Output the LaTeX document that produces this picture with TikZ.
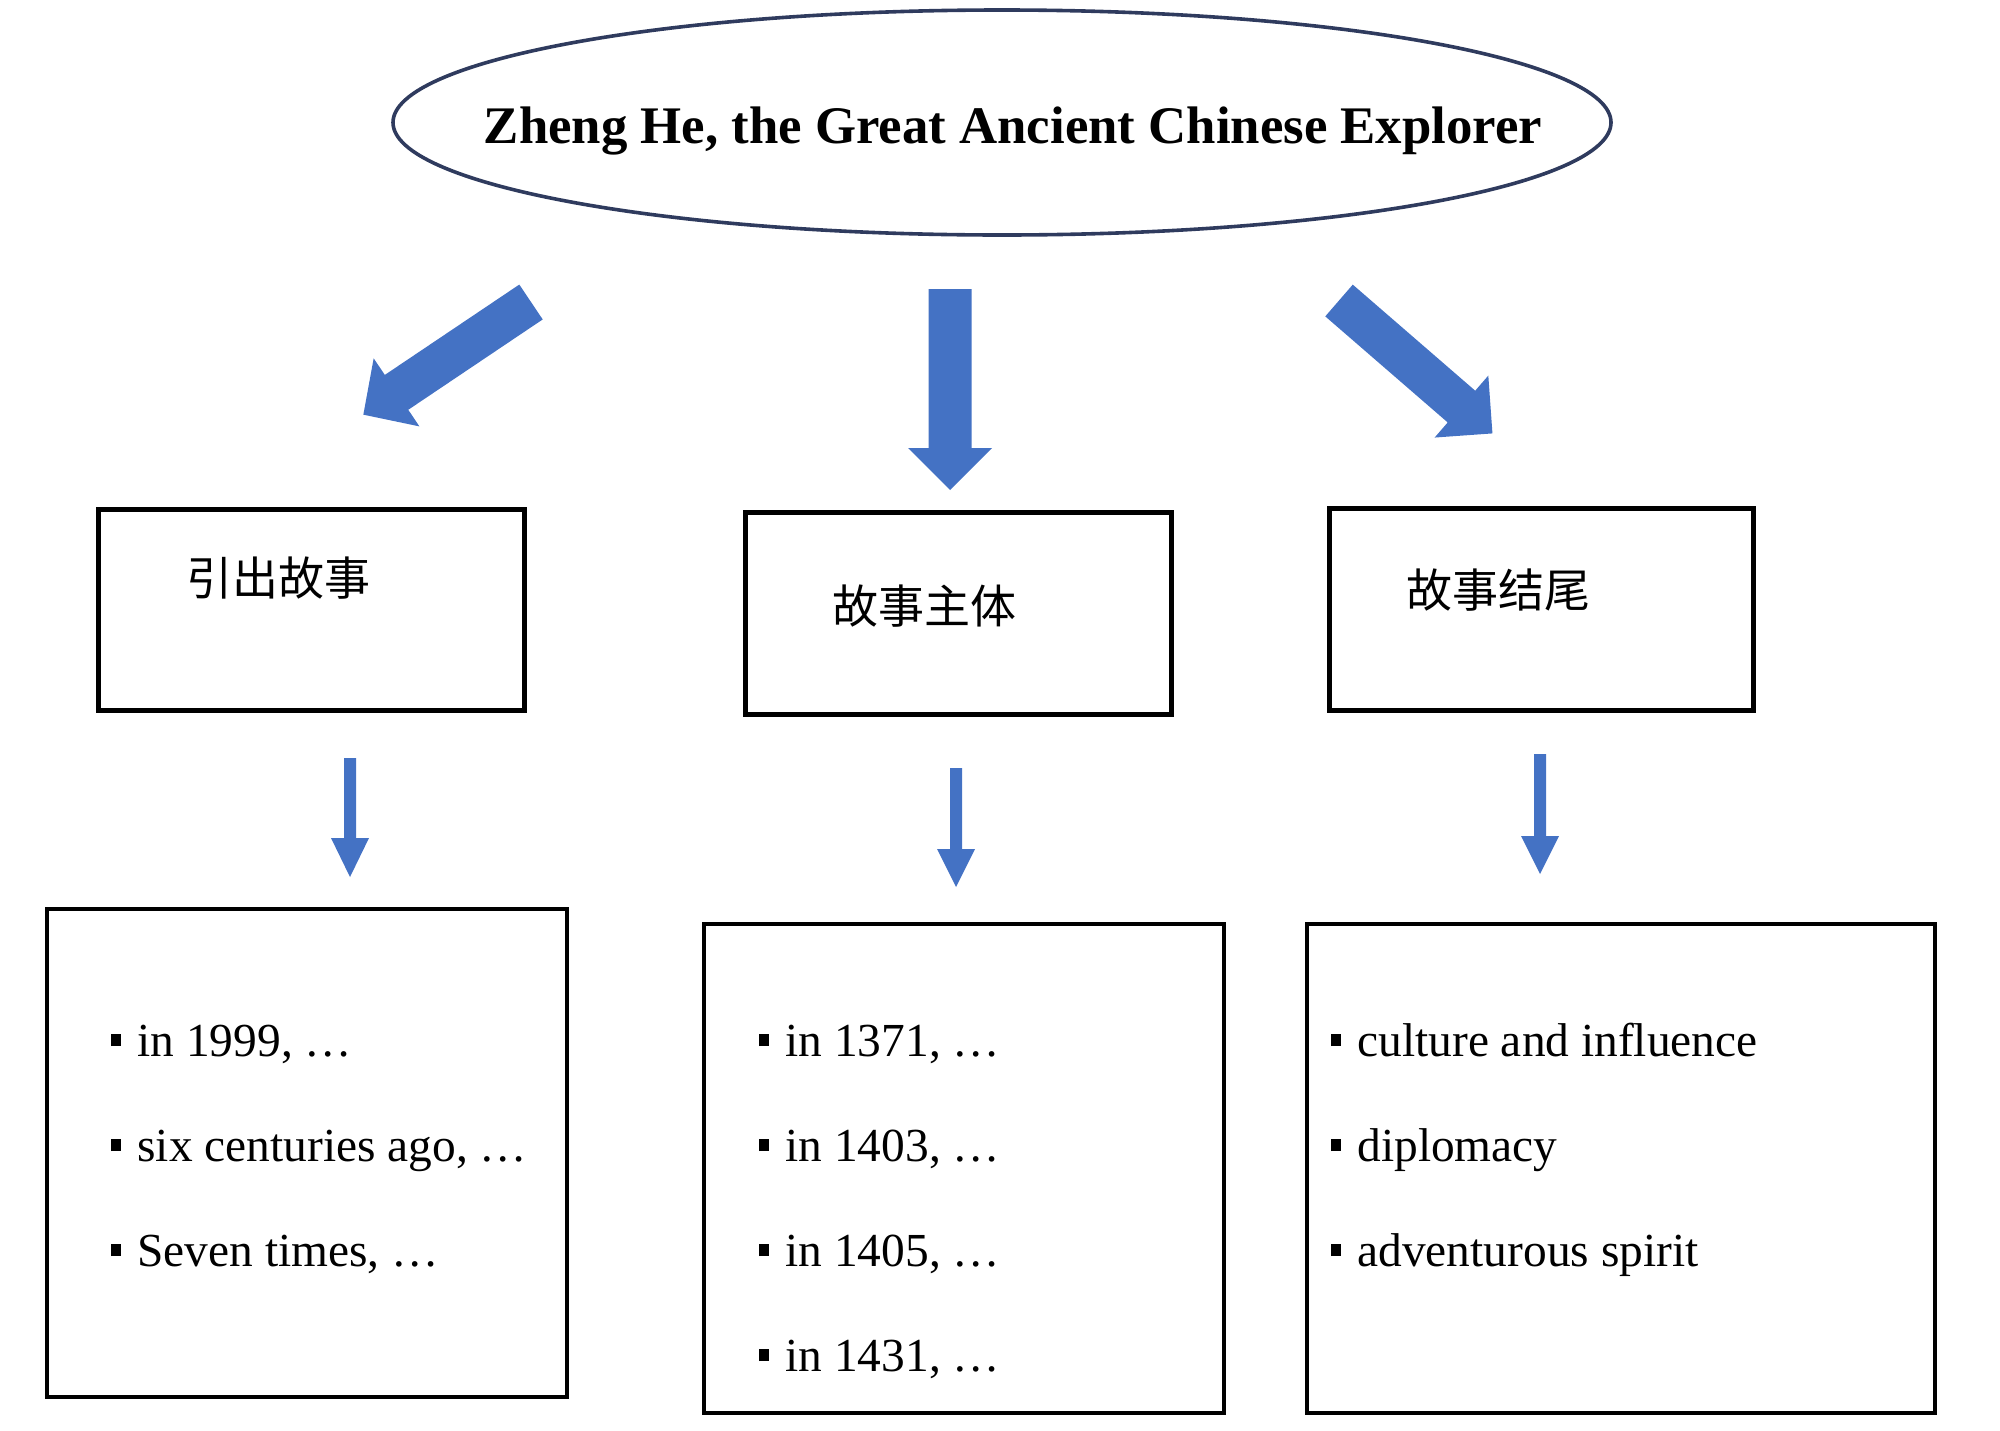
\documentclass[tikz,border=0pt]{standalone}
\usepackage{fontspec}
\setmainfont{Liberation Serif}
\newfontfamily\cjk{Noto Sans CJK SC}
\usetikzlibrary{shapes.geometric}
\definecolor{arrowblue}{HTML}{4472C4}
\definecolor{ellblue}{HTML}{2F3B5E}
\newcommand{\sqbul}{\rule[0.21em]{0.21em}{0.25em}\hspace{0.34em}}
% tail point, rotation, length, shaft half width, head length, head half width
\newcommand{\myarrow}[6]{%
  \begin{scope}[shift={#1},rotate=#2]
    \fill[blockfill] (0,-#4) -- ({#3-#5},-#4) -- ({#3-#5},-#6) -- (#3,0)
      -- ({#3-#5},#6) -- ({#3-#5},#4) -- (0,#4) -- cycle;
  \end{scope}}
\begin{document}
\begin{tikzpicture}[x=0.5pt,y=-0.5pt,
  box/.style={draw=black, line width=2.5pt, inner sep=0pt, outer sep=0pt},
  lowbox/.style={draw=black, line width=2pt, inner sep=0pt, outer sep=0pt},
  cjklabel/.style={font=\cjk\fontsize{23}{27}\selectfont, inner sep=0pt},
  item/.style={anchor=base west, inner sep=0pt, font=\fontsize{23.7}{28}\selectfont},
  blockfill/.style={fill=arrowblue, draw=none}]
\useasboundingbox (0,0) rectangle (2000,1430);

% title ellipse
\node[ellipse, draw=ellblue, line width=1.8pt, minimum width=609pt,
      minimum height=112.5pt, inner sep=0pt] (top) at (1002,122.5) {};
\node[anchor=base, inner sep=0pt, font=\bfseries\fontsize{26.4}{30}\selectfont]
      (title) at (1013,143.5) {Zheng He, the Great Ancient Chinese Explorer};

% big arrows
\myarrow{(531,302)}{-146.1}{202}{21}{40}{41}
\myarrow{(950,289)}{-90}{201}{21.5}{42}{42}
\myarrow{(1339,300.5)}{-40.9}{203}{21}{41}{41}

% middle boxes
\node[box, minimum width=213pt, minimum height=100.5pt] (b1) at (311.5,610) {};
\node[box, minimum width=213pt, minimum height=101pt] (b2) at (958.5,613.5) {};
\node[box, minimum width=212pt, minimum height=101pt] (b3) at (1541.5,609.5) {};
\node[cjklabel] (t1) at (278.5,578) {引出故事};
\node[cjklabel] (t2) at (924.5,606) {故事主体};
\node[cjklabel] (t3) at (1498,590) {故事结尾};

% small arrows
\myarrow{(350,758)}{-90}{119}{6}{39}{19}
\myarrow{(956,768)}{-90}{119}{6}{38}{19}
\myarrow{(1540,754)}{-90}{120}{6}{38}{19}

% bottom boxes
\node[lowbox, minimum width=260pt, minimum height=244pt] (c1) at (307,1153) {};
\node[lowbox, minimum width=260pt, minimum height=244.5pt] (c2) at (964,1168.5) {};
\node[lowbox, minimum width=314pt, minimum height=244.5pt] (c3) at (1620.5,1168.5) {};

\node[item] (l1) at (111,1056) {\sqbul in 1999, …};
\node[item] (l2) at (111,1161) {\sqbul six centuries ago, …};
\node[item] (l3) at (111,1266) {\sqbul Seven times, …};

\node[item] (m1) at (759,1056) {\sqbul in 1371, …};
\node[item] (m2) at (759,1161) {\sqbul in 1403, …};
\node[item] (m3) at (759,1266) {\sqbul in 1405, …};
\node[item] (m4) at (759,1371) {\sqbul in 1431, …};

\node[item] (r1) at (1331,1056) {\sqbul culture and influence};
\node[item] (r2) at (1331,1161) {\sqbul diplomacy};
\node[item] (r3) at (1331,1266) {\sqbul adventurous spirit};
\end{tikzpicture}
\end{document}
